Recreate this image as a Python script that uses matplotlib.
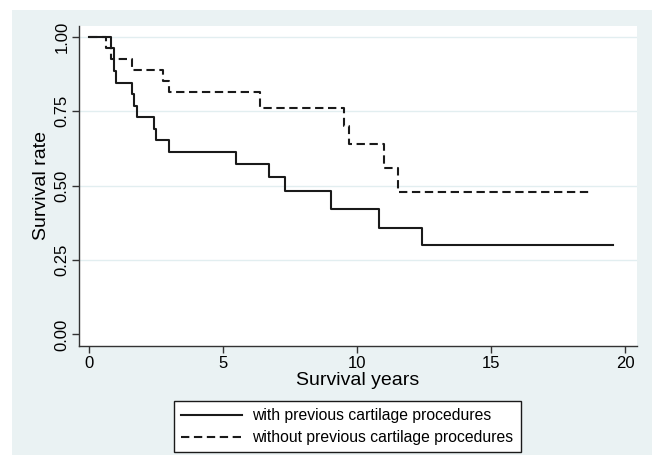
import matplotlib
matplotlib.use("Agg")
import numpy as np
from matplotlib import pyplot as plt
from matplotlib.patches import Rectangle

matplotlib.rcParams.update({'font.family': ['Liberation Sans', 'DejaVu Sans']})

## Kaplan-Meier steps
t_with = [0, 0.81, 0.92, 1.0, 1.59, 1.69, 1.78, 2.41, 2.49, 3.0, 5.5, 6.73,
          7.32, 9.02, 10.82, 12.41, 19.54]
s_with = [1.0, 0.962, 0.885, 0.846, 0.808, 0.769, 0.731, 0.692, 0.654, 0.615,
          0.574, 0.530, 0.481, 0.421, 0.358, 0.301, 0.301]

t_without = [0, 0.63, 0.82, 1.59, 2.77, 3.0, 6.4, 9.5, 9.71, 11.0, 11.53, 18.73]
s_without = [1.0, 0.963, 0.926, 0.889, 0.852, 0.815, 0.760, 0.700, 0.640,
             0.558, 0.480, 0.480]

labels = ["with previous cartilage procedures", "without previous cartilage procedures"]
xticks = [0, 5, 10, 15, 20]
yticks = [0.0, 0.25, 0.5, 0.75, 1.0]

W, H = 657, 455
bg = '#eaf2f3'
fig = plt.figure(figsize=(W / 100, H / 100), dpi=100)
fig.patch.set_facecolor('white')
fig.patches.append(Rectangle((12 / W, 0), 640 / W, 1 - 10 / H,
                             transform=fig.transFigure, facecolor=bg,
                             edgecolor='none', zorder=-10))

ax = fig.add_axes([79 / W, 1 - 346 / H, 558 / W, 320 / H])
ax.set_facecolor('white')

l1, = ax.step(t_with, s_with, where='post', color='#1a1a1a', lw=1.5)
l2, = ax.step(t_without, s_without, where='post', color='#1a1a1a', lw=1.5,
              linestyle=(0, (4, 2.2)))

ax.set(xlim=(-0.37, 20.45), ylim=(-0.039, 1.037))
ax.set_xticks(xticks)
ax.set_yticks(yticks)
ax.set_yticklabels(["0.00", "0.25", "0.50", "0.75", "1.00"], rotation=90, va='center')
ax.tick_params(labelsize=12, length=5, width=1, color='#333333')
ax.tick_params(axis='x', pad=2)
ax.tick_params(axis='y', pad=2)
for y in yticks[1:]:
    ax.axhline(y, color='#e2eef0', lw=1, zorder=0)

for s in ['top', 'right']:
    ax.spines[s].set_visible(False)
for s in ['left', 'bottom']:
    ax.spines[s].set_color('#333333')
    ax.spines[s].set_linewidth(1)

ax.set_xlabel("Survival years", fontsize=14, labelpad=1)
ax.set_ylabel("Survival rate", fontsize=14, labelpad=3)

leg = fig.legend([l1, l2], labels, loc='upper left',
                 bbox_to_anchor=(174 / W, 1 - 401 / H), borderaxespad=0,
                 fontsize=11.3, handlelength=3.9, handletextpad=0.65,
                 labelspacing=0.45, borderpad=0.45, fancybox=False,
                 framealpha=1, edgecolor='#1a1a1a')
leg.get_frame().set_linewidth(1)

fig.savefig("out.png", dpi=100)
